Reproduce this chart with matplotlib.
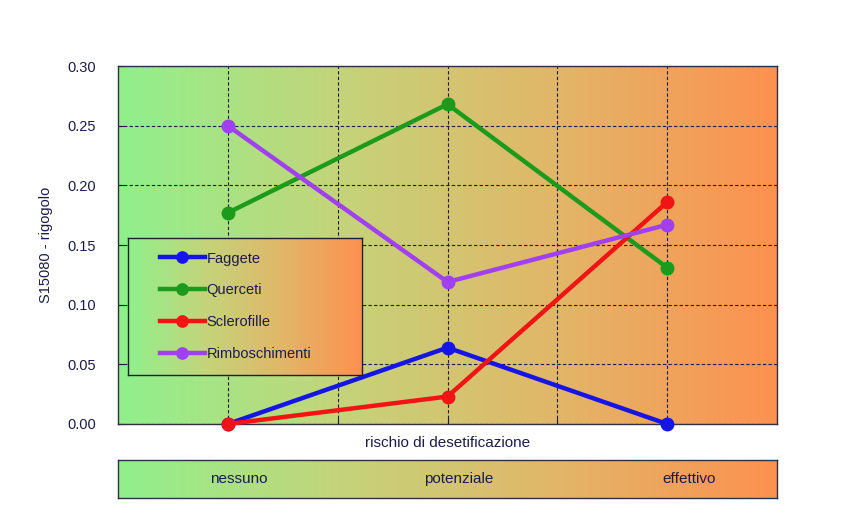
import numpy as np
import matplotlib
matplotlib.use("Agg")
import matplotlib.pyplot as plt
from matplotlib.colors import LinearSegmentedColormap

plt.rcParams['font.family'] = ['Liberation Sans', 'DejaVu Sans']

# data
x_pos = [1, 3, 5]
categories = ["nessuno", "potenziale", "effettivo"]
faggete = [0.0, 0.064, 0.0]
querceti = [0.177, 0.268, 0.131]
sclerofille = [0.0, 0.023, 0.186]
rimboschimenti = [0.250, 0.119, 0.167]
series_names = ["Faggete", "Querceti", "Sclerofille", "Rimboschimenti"]
series_vals = [faggete, querceti, sclerofille, rimboschimenti]
series_colors = ["#1515e8", "#1c9a1c", "#f01414", "#a040f0"]
y_ticks = [0.00, 0.05, 0.10, 0.15, 0.20, 0.25, 0.30]

navy = "#1c1c4a"
grad = LinearSegmentedColormap.from_list(
    "g", ["#90f08c", "#c4d47a", "#e2b668", "#fd9150"])
ramp = np.linspace(0, 1, 256).reshape(1, -1)


def gradient_bg(ax, z=0):
    ax.imshow(ramp, cmap=grad, extent=[0, 1, 0, 1], transform=ax.transAxes,
              aspect="auto", zorder=z)


fig = plt.figure(figsize=(8.57, 5.29), dpi=100)
fig.patch.set_facecolor("white")

# main plot
ax = fig.add_axes([0.1377, 0.1985, 0.769, 0.6767])
gradient_bg(ax)
for name, vals, col in zip(series_names, series_vals, series_colors):
    ax.plot(x_pos, vals, color=col, lw=3.2, marker="o", ms=9,
            label=name, zorder=3, clip_on=False)
ax.set_xlim(0, 6)
ax.set_ylim(0, 0.30)
ax.set_xticks([1, 2, 3, 4, 5])
ax.set_xticklabels([])
ax.set_yticks(y_ticks)
ax.set_yticklabels(["%.2f" % v for v in y_ticks])
ax.grid(True, color=navy, ls=(0, (3, 2)), lw=0.8, zorder=1)
ax.tick_params(axis="both", direction="in", length=4, color=navy,
               labelcolor=navy, labelsize=10.5)
ax.tick_params(axis="y", pad=16)
for s in ax.spines.values():
    s.set_color("#303040")
    s.set_linewidth(1.0)
ax.set_ylabel("S15080 - rigogolo", color=navy, fontsize=10.5, labelpad=10)
ax.set_xlabel("rischio di desetificazione", color=navy, fontsize=11, labelpad=5)

# legend with gradient box
lax = fig.add_axes([0.1494, 0.2915, 0.273, 0.259])
gradient_bg(lax)
lax.set_xticks([])
lax.set_yticks([])
for s in lax.spines.values():
    s.set_color("#202030")
    s.set_linewidth(1.0)
handles, labels = ax.get_legend_handles_labels()
lax.legend(handles, labels, loc="center left", frameon=False, fontsize=10.5,
           labelcolor=navy, handlelength=3.1, handletextpad=0.1,
           labelspacing=1.22, bbox_to_anchor=(0.08, 0.5), markerscale=0.9)

# category band
bax = fig.add_axes([0.1377, 0.0586, 0.769, 0.0718])
gradient_bg(bax)
bax.set_xlim(0, 6)
bax.set_ylim(0, 1)
bax.set_xticks([])
bax.set_yticks([])
for s in bax.spines.values():
    s.set_color("#303040")
    s.set_linewidth(1.0)
for xp, cat in zip([1.1, 3.1, 5.2], categories):
    bax.text(xp, 0.5, cat, ha="center", va="center", color=navy, fontsize=11)

fig.savefig("out.png", dpi=100)
